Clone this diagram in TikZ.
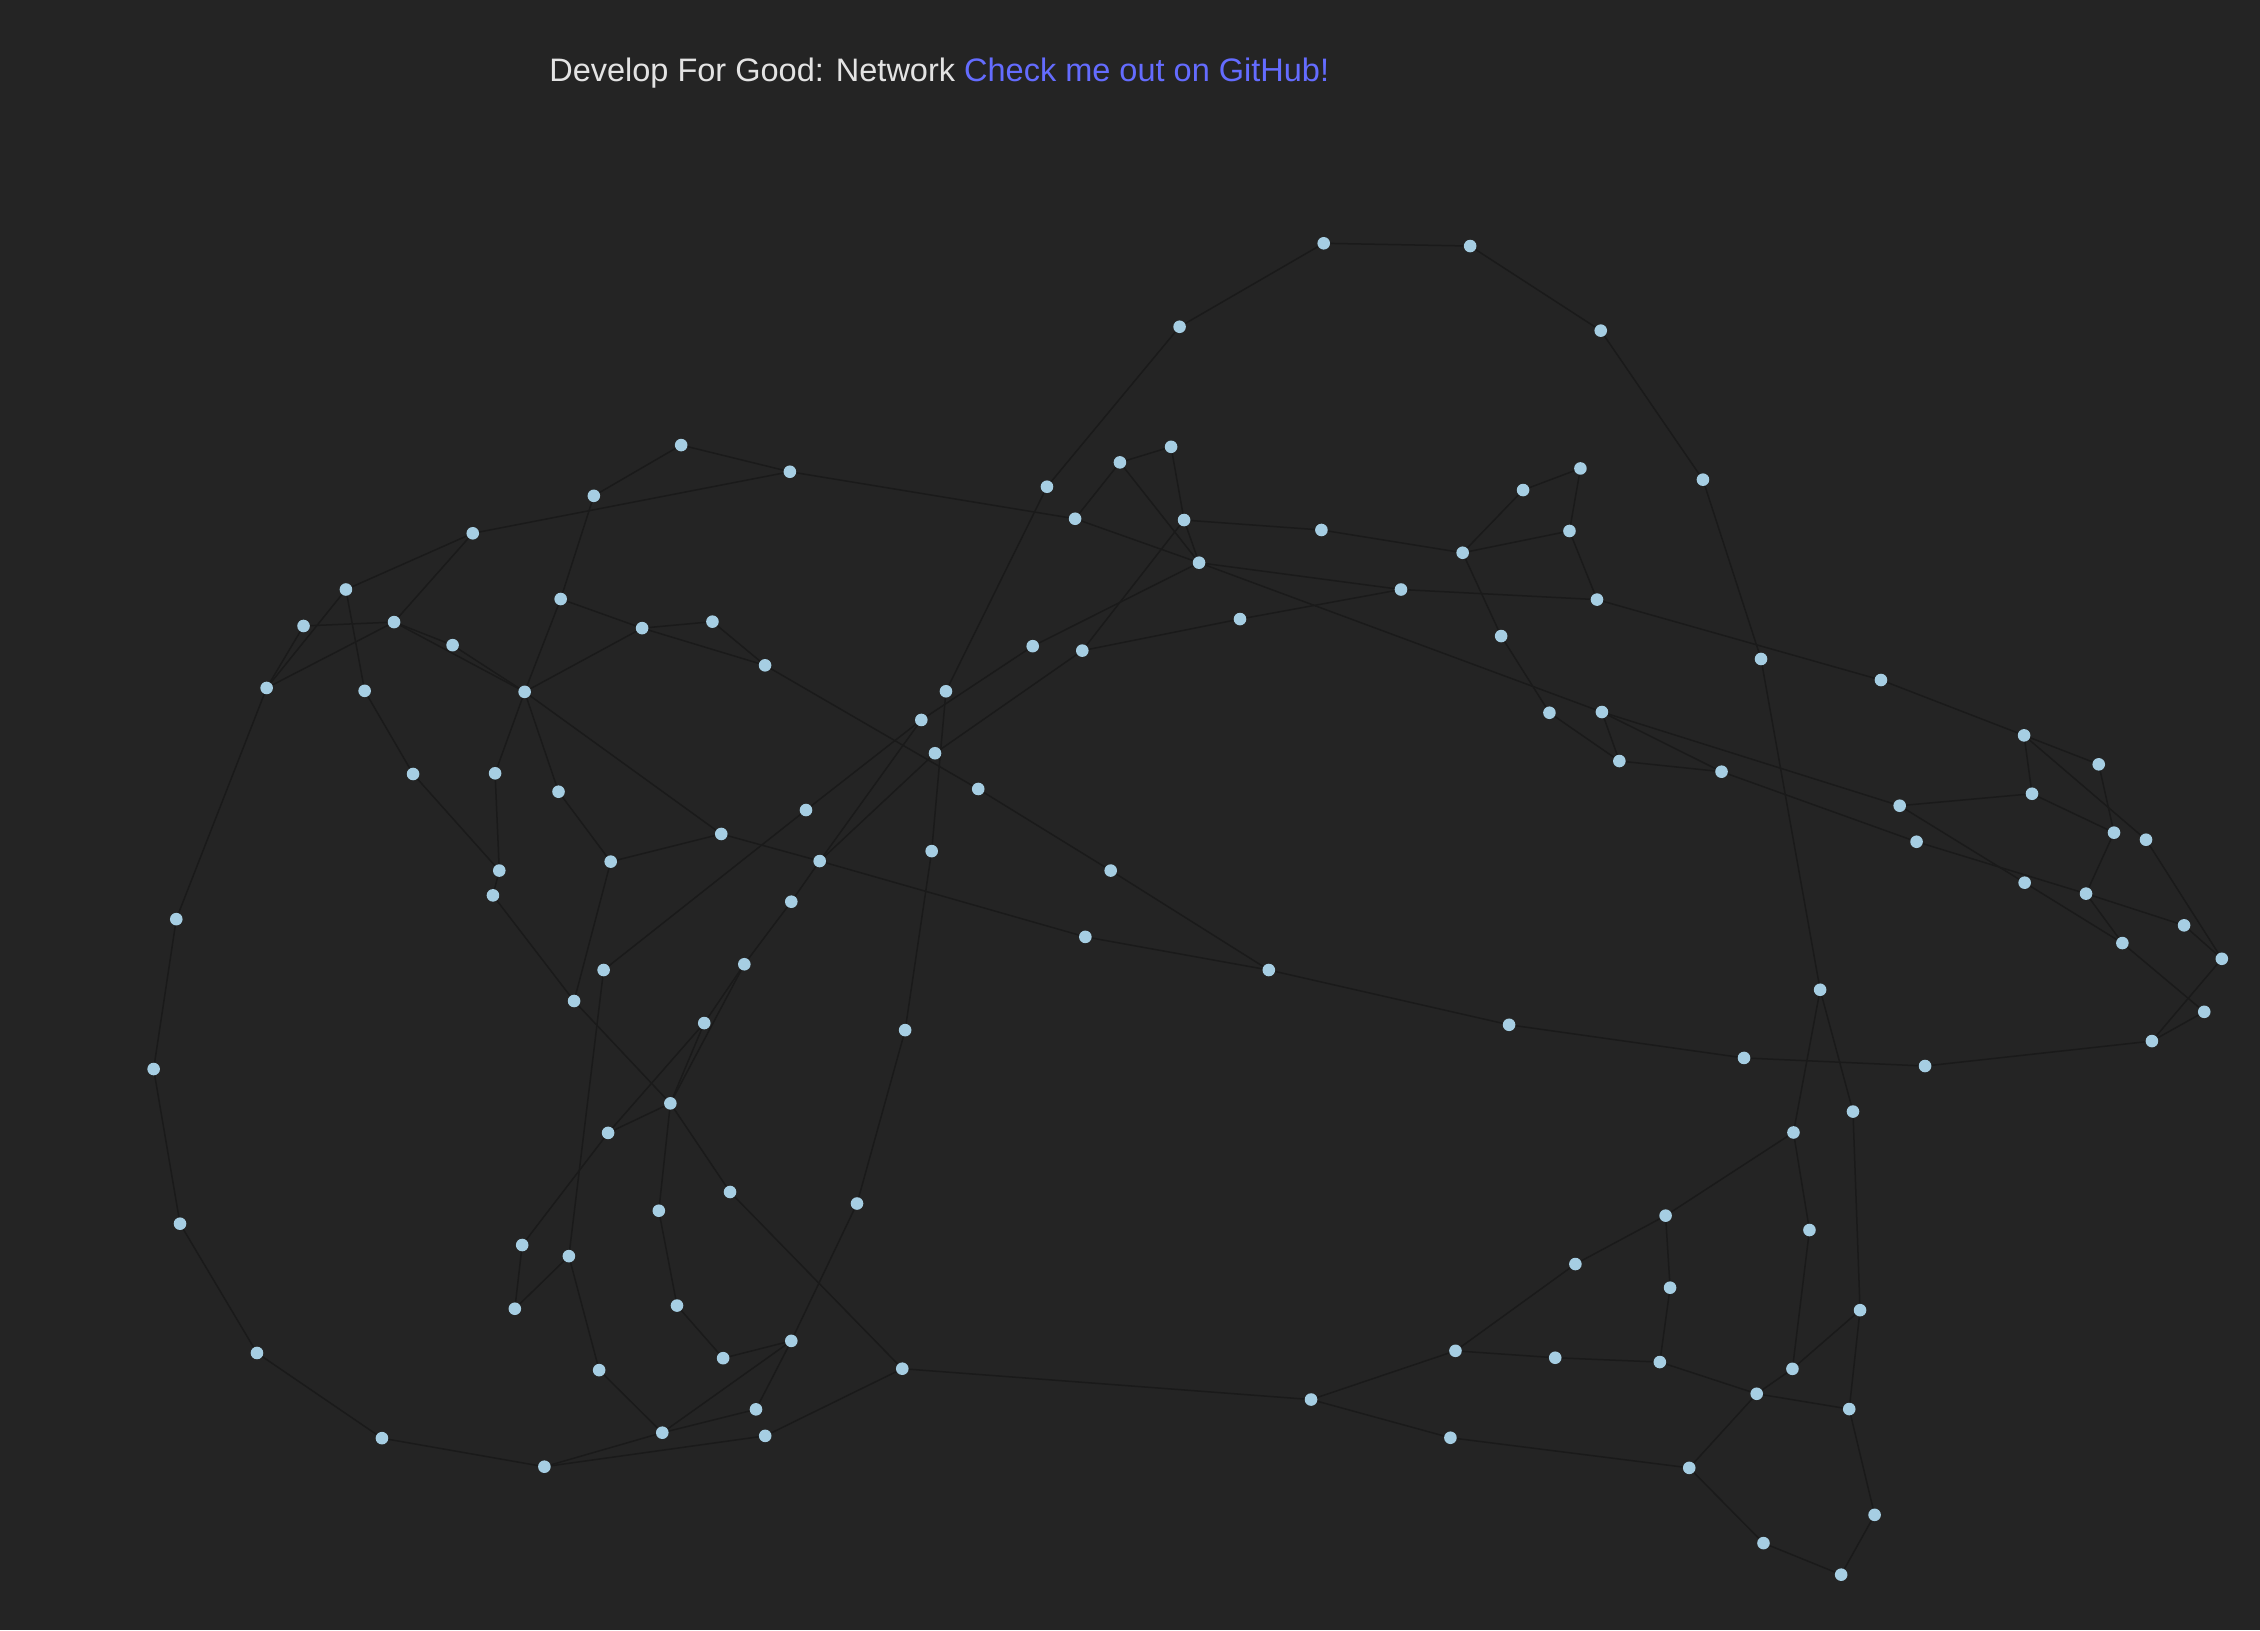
\documentclass[tikz,border=0pt]{standalone}
\usepackage{fontspec}
\setmainfont{Liberation Sans}
\usepackage{xcolor}
\definecolor{bgdark}{HTML}{242424}
\definecolor{edgedark}{HTML}{1A1A1A}
\definecolor{dotblue}{HTML}{A6CEE3}
\definecolor{titlegray}{HTML}{E3E3E3}
\definecolor{vitelink}{HTML}{646CFF}
\usepackage{tikz}
\usetikzlibrary{backgrounds}

\begin{document}
\begin{tikzpicture}[
    x=1.4413pt, y=-1.4413pt,
    dot/.style={circle, fill=dotblue, inner sep=0pt, minimum size=12.6pt},
    link/.style={draw=edgedark, line width=1.5pt},
    heading/.style={anchor=base west, inner sep=0pt, text=titlegray,
                    font=\fontsize{32.5}{39}\selectfont}
  ]
  \node[heading] (title) at (381,56.7) {Develop For Good: Network \textcolor{vitelink}{Check me out on GitHub!}};

  % top arc
  \node[dot] (n1) at (918.4,168.8) {};
  \node[dot] (n2) at (1020,170.7) {};
  \node[dot] (n3) at (818.4,226.7) {};
  \node[dot] (n4) at (1110.6,229.4) {};
  \node[dot] (n5) at (1181.5,332.8) {};
  \node[dot] (n6) at (472.6,308.8) {};
  \node[dot] (n7) at (548,327.3) {};
  \node[dot] (n8) at (412,344) {};
  \node[dot] (n9) at (328,370) {};
  \node[dot] (n10) at (726.4,337.7) {};
  \node[dot] (n11) at (777,320.8) {};
  \node[dot] (n12) at (812.5,310) {};
  \node[dot] (n13) at (745.9,359.9) {};
  \node[dot] (n14) at (821.5,360.8) {};
  \node[dot] (n15) at (916.8,367.7) {};
  \node[dot] (n16) at (1014.8,383.5) {};
  \node[dot] (n17) at (1056.7,340) {};
  \node[dot] (n18) at (1096.5,325) {};
  \node[dot] (n19) at (1088.9,368.4) {};
  \node[dot] (n20) at (831.9,390.4) {};
  \node[dot] (n21) at (972,409) {};
  \node[dot] (n22) at (1108,416) {};
  % left cluster
  \node[dot] (n23) at (240,409) {};
  \node[dot] (n24) at (210.6,434.3) {};
  \node[dot] (n25) at (273.4,431.6) {};
  \node[dot] (n26) at (314,447.6) {};
  \node[dot] (n27) at (389,415.6) {};
  \node[dot] (n28) at (445.5,435.8) {};
  \node[dot] (n29) at (494.3,431.3) {};
  \node[dot] (n30) at (530.8,461.6) {};
  \node[dot] (n31) at (185,477.3) {};
  \node[dot] (n32) at (253,479.3) {};
  \node[dot] (n33) at (364,480) {};
  % middle
  \node[dot] (n34) at (716.5,448.3) {};
  \node[dot] (n35) at (750.9,451.4) {};
  \node[dot] (n36) at (860.3,429.5) {};
  \node[dot] (n37) at (1041.5,441.3) {};
  \node[dot] (n38) at (1221.8,457.2) {};
  \node[dot] (n39) at (1305,471.8) {};
  \node[dot] (n40) at (656.3,479.6) {};
  \node[dot] (n41) at (639.2,499.5) {};
  \node[dot] (n42) at (648.7,522.6) {};
  \node[dot] (n43) at (1075,494.5) {};
  \node[dot] (n44) at (1111.4,494) {};
  \node[dot] (n45) at (1123.5,528) {};
  \node[dot] (n46) at (1194.4,535.4) {};
  \node[dot] (n47) at (1404.3,510.2) {};
  \node[dot] (n48) at (1456.1,530.3) {};
  \node[dot] (n49) at (286.6,537) {};
  \node[dot] (n50) at (343.5,536.5) {};
  \node[dot] (n51) at (387.5,549.3) {};
  \node[dot] (n52) at (678.7,547.4) {};
  \node[dot] (n53) at (559.2,562) {};
  \node[dot] (n54) at (1318,559) {};
  \node[dot] (n55) at (1409.8,550.7) {};
  \node[dot] (n56) at (1329.7,584) {};
  \node[dot] (n57) at (1466.7,577.7) {};
  \node[dot] (n58) at (1488.9,582.6) {};
  \node[dot] (n59) at (500.4,578.6) {};
  \node[dot] (n60) at (423.7,597.8) {};
  \node[dot] (n61) at (568.7,597.4) {};
  \node[dot] (n62) at (646.4,590.5) {};
  \node[dot] (n63) at (346.4,604) {};
  \node[dot] (n64) at (342,621.2) {};
  \node[dot] (n65) at (770.6,604) {};
  \node[dot] (n66) at (1404.7,612.4) {};
  \node[dot] (n67) at (1447.3,620) {};
  \node[dot] (n68) at (549,625.6) {};
  \node[dot] (n69) at (122.3,637.7) {};
  \node[dot] (n70) at (1515.3,642) {};
  \node[dot] (n71) at (753,650) {};
  \node[dot] (n72) at (1472.5,654.3) {};
  \node[dot] (n73) at (1541.5,665.2) {};
  \node[dot] (n74) at (516.4,669) {};
  \node[dot] (n75) at (418.8,673) {};
  \node[dot] (n76) at (880.3,673) {};
  \node[dot] (n77) at (1262.8,686.7) {};
  \node[dot] (n78) at (398.3,694.5) {};
  \node[dot] (n79) at (1529.3,702) {};
  \node[dot] (n80) at (488.6,709.8) {};
  \node[dot] (n81) at (628,714.7) {};
  \node[dot] (n82) at (1047,711) {};
  \node[dot] (n83) at (1493,722.3) {};
  \node[dot] (n84) at (1210,734) {};
  \node[dot] (n85) at (1335.6,739.6) {};
  \node[dot] (n86) at (106.6,741.7) {};
  % lower half
  \node[dot] (n87) at (465.1,765.5) {};
  \node[dot] (n88) at (1285.6,771.2) {};
  \node[dot] (n89) at (421.9,786) {};
  \node[dot] (n90) at (1244.3,785.7) {};
  \node[dot] (n91) at (506.5,827) {};
  \node[dot] (n92) at (594.6,835) {};
  \node[dot] (n93) at (457.1,840) {};
  \node[dot] (n94) at (1155.6,843.4) {};
  \node[dot] (n95) at (124.9,849) {};
  \node[dot] (n96) at (1255.4,853.4) {};
  \node[dot] (n97) at (362.3,863.8) {};
  \node[dot] (n98) at (394.7,871.5) {};
  \node[dot] (n99) at (1093,877) {};
  \node[dot] (n100) at (1158.7,893.4) {};
  \node[dot] (n101) at (357.2,908) {};
  \node[dot] (n102) at (469.7,905.8) {};
  \node[dot] (n103) at (1290.5,909) {};
  \node[dot] (n104) at (549,930.3) {};
  \node[dot] (n105) at (178.3,938.7) {};
  \node[dot] (n106) at (501.7,942.3) {};
  \node[dot] (n107) at (1009.8,937.2) {};
  \node[dot] (n108) at (1079,942) {};
  \node[dot] (n109) at (1151.6,945) {};
  \node[dot] (n110) at (1243.6,949.7) {};
  \node[dot] (n111) at (626,949.6) {};
  \node[dot] (n112) at (415.7,950.6) {};
  \node[dot] (n113) at (909.6,971) {};
  \node[dot] (n114) at (1218.8,967) {};
  \node[dot] (n115) at (1283,977.6) {};
  \node[dot] (n116) at (524.5,977.8) {};
  \node[dot] (n117) at (459.5,994) {};
  \node[dot] (n118) at (530.9,996.2) {};
  \node[dot] (n119) at (265,997.8) {};
  \node[dot] (n120) at (1006.3,997.5) {};
  \node[dot] (n121) at (1172,1018.4) {};
  \node[dot] (n122) at (377.7,1017.6) {};
  \node[dot] (n123) at (1300.6,1051) {};
  \node[dot] (n124) at (1223.5,1070.6) {};
  \node[dot] (n125) at (1277.4,1092.5) {};

  \begin{scope}[on background layer]
    \fill[bgdark] (0,0) rectangle (1568,1131);
    % top
    \draw[link] (n1) -- (n2);
    \draw[link] (n1) -- (n3);
    \draw[link] (n2) -- (n4);
    \draw[link] (n4) -- (n5);
    \draw[link] (n5) -- (n38);
    \draw[link] (n3) -- (n10);
    \draw[link] (n10) -- (n40);
    \draw[link] (n6) -- (n7);
    \draw[link] (n6) -- (n8);
    \draw[link] (n7) -- (n9);
    \draw[link] (n7) -- (n13);
    \draw[link] (n8) -- (n27);
    % left
    \draw[link] (n9) -- (n23);
    \draw[link] (n9) -- (n25);
    \draw[link] (n23) -- (n31);
    \draw[link] (n23) -- (n32);
    \draw[link] (n24) -- (n25);
    \draw[link] (n24) -- (n31);
    \draw[link] (n25) -- (n31);
    \draw[link] (n25) -- (n26);
    \draw[link] (n25) -- (n33);
    \draw[link] (n26) -- (n33);
    \draw[link] (n27) -- (n28);
    \draw[link] (n27) -- (n33);
    \draw[link] (n28) -- (n29);
    \draw[link] (n28) -- (n30);
    \draw[link] (n29) -- (n30);
    \draw[link] (n28) -- (n33);
    \draw[link] (n31) -- (n69);
    \draw[link] (n69) -- (n86);
    \draw[link] (n86) -- (n95);
    \draw[link] (n95) -- (n105);
    \draw[link] (n105) -- (n119);
    \draw[link] (n119) -- (n122);
    \draw[link] (n32) -- (n49);
    \draw[link] (n49) -- (n63);
    \draw[link] (n50) -- (n63);
    \draw[link] (n33) -- (n50);
    \draw[link] (n33) -- (n51);
    \draw[link] (n33) -- (n59);
    \draw[link] (n63) -- (n64);
    \draw[link] (n51) -- (n60);
    \draw[link] (n59) -- (n60);
    \draw[link] (n59) -- (n61);
    \draw[link] (n61) -- (n71);
    \draw[link] (n60) -- (n78);
    \draw[link] (n64) -- (n78);
    \draw[link] (n78) -- (n87);
    % middle top
    \draw[link] (n11) -- (n12);
    \draw[link] (n11) -- (n13);
    \draw[link] (n11) -- (n20);
    \draw[link] (n12) -- (n14);
    \draw[link] (n14) -- (n15);
    \draw[link] (n14) -- (n20);
    \draw[link] (n14) -- (n35);
    \draw[link] (n13) -- (n20);
    \draw[link] (n20) -- (n21);
    \draw[link] (n20) -- (n34);
    \draw[link] (n20) -- (n44);
    \draw[link] (n15) -- (n16);
    \draw[link] (n16) -- (n17);
    \draw[link] (n17) -- (n18);
    \draw[link] (n18) -- (n19);
    \draw[link] (n16) -- (n19);
    \draw[link] (n19) -- (n22);
    \draw[link] (n21) -- (n22);
    \draw[link] (n21) -- (n36);
    \draw[link] (n35) -- (n36);
    \draw[link] (n16) -- (n37);
    \draw[link] (n37) -- (n43);
    \draw[link] (n22) -- (n39);
    \draw[link] (n38) -- (n77);
    \draw[link] (n39) -- (n47);
    % centre
    \draw[link] (n34) -- (n41);
    \draw[link] (n41) -- (n53);
    \draw[link] (n53) -- (n75);
    \draw[link] (n75) -- (n98);
    \draw[link] (n35) -- (n42);
    \draw[link] (n42) -- (n61);
    \draw[link] (n41) -- (n61);
    \draw[link] (n61) -- (n68);
    \draw[link] (n68) -- (n74);
    \draw[link] (n74) -- (n80);
    \draw[link] (n74) -- (n87);
    \draw[link] (n80) -- (n87);
    \draw[link] (n80) -- (n89);
    \draw[link] (n40) -- (n62);
    \draw[link] (n62) -- (n81);
    \draw[link] (n81) -- (n92);
    \draw[link] (n30) -- (n52);
    \draw[link] (n52) -- (n65);
    \draw[link] (n65) -- (n76);
    \draw[link] (n71) -- (n76);
    \draw[link] (n76) -- (n82);
    \draw[link] (n82) -- (n84);
    \draw[link] (n84) -- (n85);
    \draw[link] (n85) -- (n83);
    % right
    \draw[link] (n43) -- (n45);
    \draw[link] (n44) -- (n45);
    \draw[link] (n45) -- (n46);
    \draw[link] (n44) -- (n46);
    \draw[link] (n44) -- (n54);
    \draw[link] (n46) -- (n56);
    \draw[link] (n54) -- (n55);
    \draw[link] (n54) -- (n66);
    \draw[link] (n56) -- (n67);
    \draw[link] (n47) -- (n48);
    \draw[link] (n47) -- (n55);
    \draw[link] (n47) -- (n58);
    \draw[link] (n48) -- (n57);
    \draw[link] (n55) -- (n57);
    \draw[link] (n57) -- (n67);
    \draw[link] (n58) -- (n73);
    \draw[link] (n66) -- (n72);
    \draw[link] (n67) -- (n72);
    \draw[link] (n67) -- (n70);
    \draw[link] (n70) -- (n73);
    \draw[link] (n72) -- (n79);
    \draw[link] (n73) -- (n83);
    \draw[link] (n79) -- (n83);
    % lower right
    \draw[link] (n77) -- (n88);
    \draw[link] (n77) -- (n90);
    \draw[link] (n88) -- (n103);
    \draw[link] (n90) -- (n94);
    \draw[link] (n90) -- (n96);
    \draw[link] (n94) -- (n99);
    \draw[link] (n94) -- (n100);
    \draw[link] (n99) -- (n107);
    \draw[link] (n107) -- (n108);
    \draw[link] (n108) -- (n109);
    \draw[link] (n100) -- (n109);
    \draw[link] (n109) -- (n114);
    \draw[link] (n96) -- (n110);
    \draw[link] (n103) -- (n110);
    \draw[link] (n110) -- (n114);
    \draw[link] (n114) -- (n115);
    \draw[link] (n103) -- (n115);
    \draw[link] (n114) -- (n121);
    \draw[link] (n120) -- (n121);
    \draw[link] (n121) -- (n124);
    \draw[link] (n124) -- (n125);
    \draw[link] (n123) -- (n125);
    \draw[link] (n115) -- (n123);
    \draw[link] (n113) -- (n107);
    \draw[link] (n113) -- (n120);
    \draw[link] (n111) -- (n113);
    % lower left
    \draw[link] (n87) -- (n89);
    \draw[link] (n87) -- (n93);
    \draw[link] (n87) -- (n91);
    \draw[link] (n91) -- (n111);
    \draw[link] (n89) -- (n97);
    \draw[link] (n97) -- (n101);
    \draw[link] (n98) -- (n101);
    \draw[link] (n98) -- (n112);
    \draw[link] (n93) -- (n102);
    \draw[link] (n102) -- (n106);
    \draw[link] (n104) -- (n106);
    \draw[link] (n92) -- (n104);
    \draw[link] (n104) -- (n116);
    \draw[link] (n104) -- (n117);
    \draw[link] (n116) -- (n117);
    \draw[link] (n117) -- (n122);
    \draw[link] (n118) -- (n122);
    \draw[link] (n111) -- (n118);
    \draw[link] (n112) -- (n117);
  \end{scope}
\end{tikzpicture}
\end{document}
